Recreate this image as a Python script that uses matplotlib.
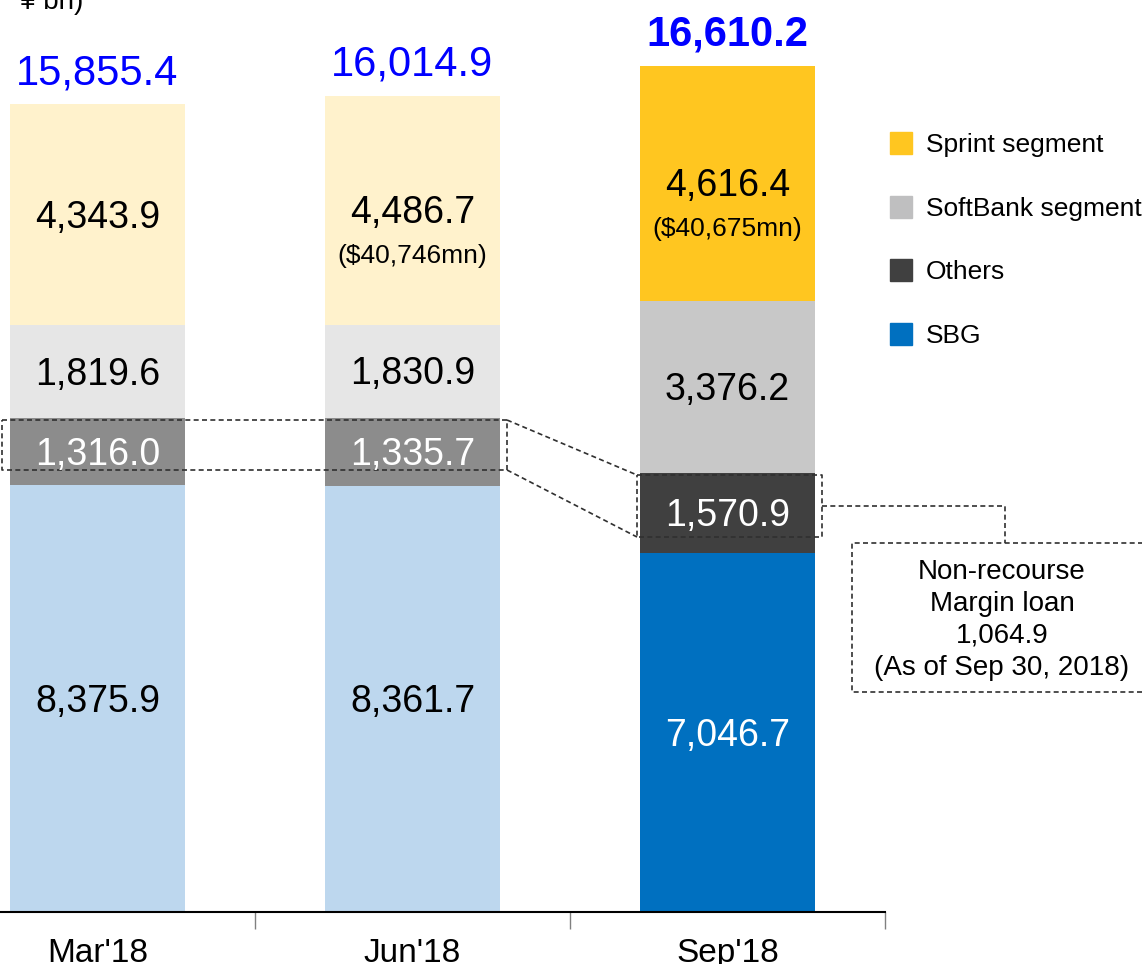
import matplotlib
matplotlib.use("Agg")
import matplotlib.pyplot as plt
from matplotlib.patches import Rectangle

plt.rcParams['font.family'] = ['Liberation Sans', 'DejaVu Sans']

categories = ["Mar'18", "Jun'18", "Sep'18"]
sbg = [8375.9, 8361.7, 7046.7]
others = [1316.0, 1335.7, 1570.9]
softbank = [1819.6, 1830.9, 3376.2]
sprint = [4343.9, 4486.7, 4616.4]
totals = [15855.4, 16014.9, 16610.2]
sprint_usd = [None, "($40,746mn)", "($40,675mn)"]
legend_labels = ["Sprint segment", "SoftBank segment", "Others", "SBG"]
loan_text = "Non-recourse\nMargin loan\n1,064.9\n(As of Sep 30, 2018)"
unit_text = "¥ bn)"

W, H = 1142, 964
fig = plt.figure(figsize=(W / 100, H / 100), dpi=100)
YMAX = 17000
px_per_unit = 0.05096
ax = fig.add_axes([-60 / W, 52 / H, 945 / W, YMAX * px_per_unit / H])
ax.set_xlim(-0.5, 2.5)
ax.set_ylim(0, YMAX)

pale = {"sbg": "#BDD7EE", "oth": "#8C8C8C", "sb": "#E6E6E6", "spr": "#FFF2CC"}
strong = {"sbg": "#0070C0", "oth": "#404040", "sb": "#C8C8C8", "spr": "#FFC620"}
bw = 175 / 315
DY = -2.2  # points, visual centering of digits

for i in range(len(categories)):
    pal = strong if i == 2 else pale
    bottoms = 0
    segs = [("sbg", sbg[i]), ("oth", others[i]), ("sb", softbank[i]), ("spr", sprint[i])]
    for key, v in segs:
        ax.bar(i, v, bottom=bottoms, width=bw, color=pal[key], edgecolor='none')
        mid = bottoms + v / 2
        if key == "oth" or (key == "sbg" and i == 2):
            col = "white"
        else:
            col = "black"
        ax.annotate(f"{v:,.1f}", (i, mid), xytext=(0, DY), textcoords='offset points',
                    ha='center', va='center', fontsize=27, color=col)
        if key == "spr" and sprint_usd[i]:
            ax.annotate(sprint_usd[i], (i, mid), xytext=(0, -33), textcoords='offset points',
                        ha='center', va='center', fontsize=19, color='black')
        bottoms += v
    ax.annotate(f"{totals[i]:,.1f}", (i, totals[i]), xytext=(0, 24.5 + DY), textcoords='offset points',
                ha='center', va='center', fontsize=30, color='#0000FF',
                fontweight='bold' if i == 2 else 'normal')

# axes styling
for s in ['top', 'right', 'left']:
    ax.spines[s].set_visible(False)
ax.spines['bottom'].set_linewidth(1.5)
ax.set_yticks([])
ax.set_xticks(range(len(categories)))
ax.set_xticklabels(categories, fontsize=24)
ax.tick_params(axis='x', which='major', length=0, pad=19)
ax.set_xticks([-0.5, 0.5, 1.5, 2.5], minor=True)
ax.tick_params(axis='x', which='minor', length=12, width=1, color='#808080')

# dashed highlight geometry (data coords)
def py2d(py):
    return (912 - py) / px_per_unit

def px2d(px):
    return (px - 97.5) / 315

dash = dict(color='#303030', lw=1.2, linestyle=(0, (3, 2)), clip_on=False)
x0, x1 = px2d(2), px2d(507)
ya, yb = py2d(420), py2d(470)
ax.plot([x0, x1, x1, x0, x0], [ya, ya, yb, yb, ya], **dash)
sx0, sx1 = px2d(637), px2d(822)
sa, sb_ = py2d(475), py2d(537)
ax.plot([sx0, sx1, sx1, sx0, sx0], [sa, sa, sb_, sb_, sa], **dash)
ax.plot([x1, sx0], [ya, sa], **dash)
ax.plot([x1, sx0], [yb, sb_], **dash)
cy = py2d(506)
cx = px2d(1005)
ax.plot([sx1, cx, cx], [cy, cy, py2d(543)], **dash)
bx0, bx1 = px2d(852), px2d(1160)
ba, bb = py2d(543), py2d(692)
ax.plot([bx1, bx0, bx0, bx1], [ba, ba, bb, bb], **dash)
ax.text(px2d(1002), py2d(620), loan_text, ha='center', va='center', fontsize=20,
        linespacing=1.3, clip_on=False)

# legend (figure pixel coords)
leg_colors = [strong["spr"], "#BFBFC0", strong["oth"], strong["sbg"]]
for k, (lab, c) in enumerate(zip(legend_labels, leg_colors)):
    yc = 143 + k * 63.7
    fig.add_artist(Rectangle((890 / W, 1 - (yc + 11) / H), 22 / W, 22 / H,
                             transform=fig.transFigure, color=c))
    fig.text(926 / W, 1 - (yc + 2) / H, lab, ha='left', va='center', fontsize=19)

fig.text(20 / W, 1 - 9 / H, unit_text, ha='left', va='baseline', fontsize=20)

fig.savefig("out.png", dpi=100)
